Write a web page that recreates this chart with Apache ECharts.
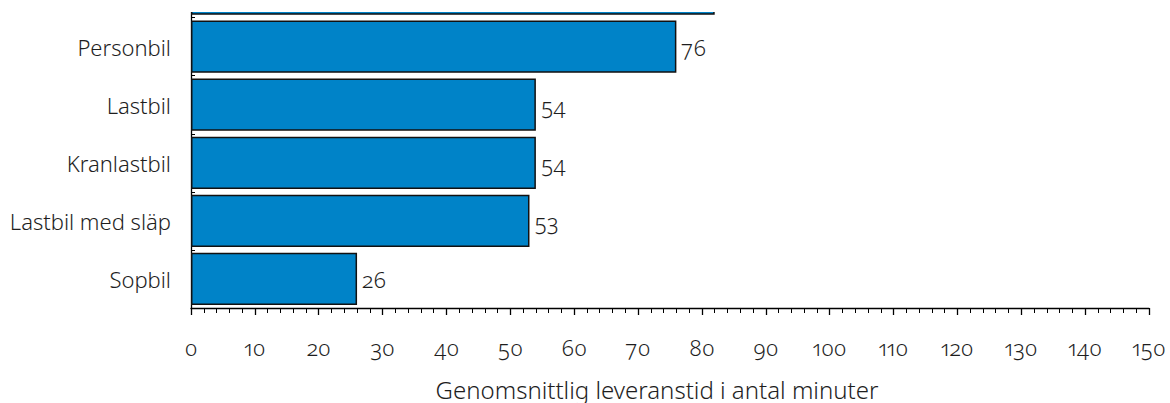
<!DOCTYPE html>
<html>
<head>
<meta charset="utf-8">
<script src="https://cdn.jsdelivr.net/npm/echarts@6/dist/echarts.min.js"></script>
<style>
  html, body { margin: 0; padding: 0; background: #fff; overflow: hidden; width: 1170px; height: 403px; }
  /* The plot runs above the top edge of the page; the top row is only partly shown */
  #chart { position: absolute; left: 0; top: -57px; width: 1170px; height: 460px; }
  #chart svg text { font-feature-settings: "onum" 1, "pnum" 1; font-variant-numeric: oldstyle-nums proportional-nums; }
</style>
</head>
<body>
<div id="chart"></div>
<script>
// Vehicle types, bottom to top as drawn on the category axis
const categories = ['Sopbil', 'Lastbil med släp', 'Kranlastbil', 'Lastbil', 'Personbil', 'Samtliga fordon'];
// Average delivery time in minutes
const minutes = [26, 53, 54, 54, 76, 82];
const xTicks = { min: 0, max: 150, interval: 10 };
const axisTitle = 'Genomsnittlig leveranstid i antal minuter';

const FONT = '"Noto Sans", "Open Sans", sans-serif';
const TEXT = '#1e1e1e';
const WEIGHT = 300;
// The top row sits above the page edge, so its texts are left out
const TOP = categories.length - 1;

const chart = echarts.init(document.getElementById('chart'), null, { renderer: 'svg' });
chart.setOption({
  animation: false,
  backgroundColor: '#fff',
  grid: { left: 191, right: 21, top: 16.5, bottom: 95, containLabel: false, outerBoundsMode: 'none' },
  xAxis: {
    type: 'value',
    min: xTicks.min, max: xTicks.max, interval: xTicks.interval,
    axisLine: { show: true, lineStyle: { color: '#000', width: 1.3 } },
    axisTick: { show: true, inside: false, length: 7, lineStyle: { color: '#000', width: 1.3 } },
    minorTick: { show: true, splitNumber: 5, length: 5, lineStyle: { color: '#000', width: 1 } },
    splitLine: { show: false },
    axisLabel: { margin: 28, fontFamily: FONT, fontWeight: WEIGHT, fontSize: 22, color: TEXT },
    name: axisTitle,
    nameLocation: 'middle',
    nameGap: 69,
    nameTextStyle: { fontFamily: FONT, fontWeight: WEIGHT, fontSize: 24, color: TEXT, padding: [0, 26, 0, 0] }
  },
  yAxis: {
    type: 'category',
    data: categories,
    axisLine: { show: true, lineStyle: { color: '#000', width: 1.3 } },
    axisTick: { show: true, inside: true, length: 4, lineStyle: { color: '#000', width: 1 } },
    axisLabel: {
      margin: 20, fontFamily: FONT, fontWeight: WEIGHT, fontSize: 22, color: TEXT,
      formatter: (v, i) => (i === TOP ? '' : v)
    }
  },
  series: [{
    type: 'bar',
    data: minutes.map((v, i) => (i === TOP ? { value: v, label: { show: false } } : v)),
    barCategoryGap: '10%',
    itemStyle: { color: '#0083C8', borderColor: '#111', borderWidth: 1.5 },
    label: {
      show: true, position: 'right', distance: 5,
      fontFamily: FONT, fontWeight: WEIGHT, fontSize: 22, color: TEXT
    }
  }],
  graphic: [{
    type: 'rect', left: 0, top: 0, z: 100,
    shape: { width: 1170, height: 69 },
    style: { fill: '#fff' }
  }]
});
</script>
</body>
</html>
